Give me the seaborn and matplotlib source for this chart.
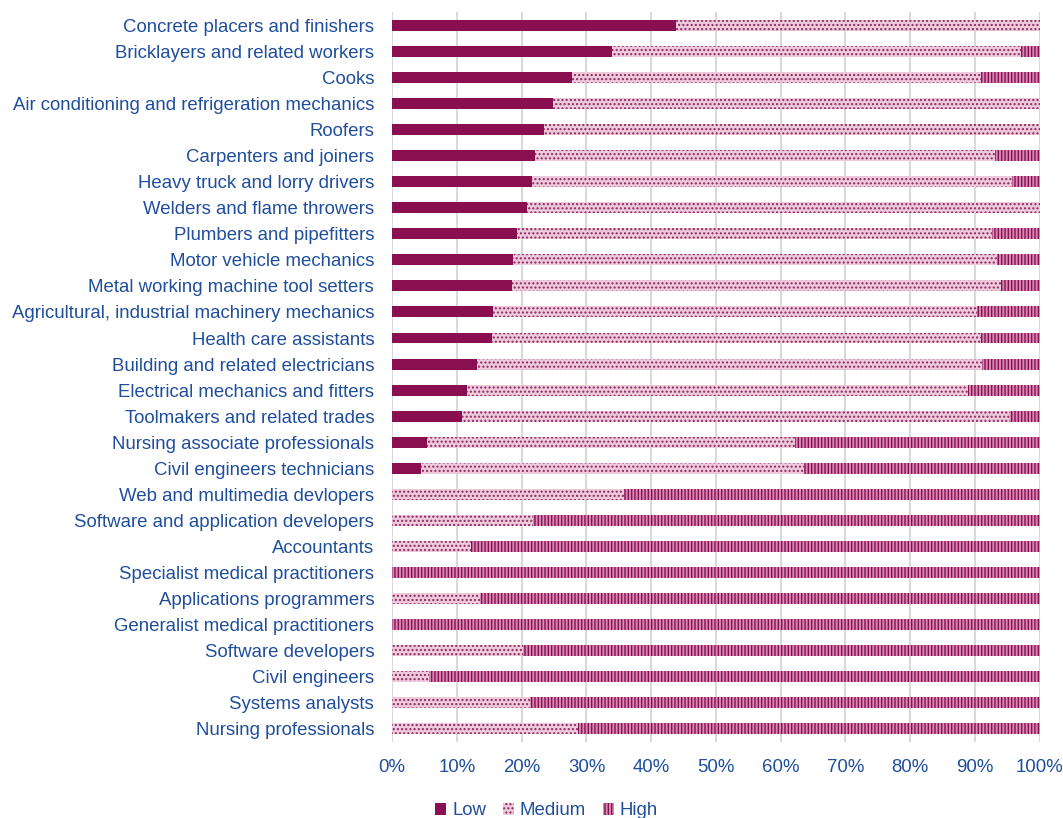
import matplotlib
matplotlib.use("Agg")
import matplotlib.pyplot as plt
import seaborn as sns
import pandas as pd
import numpy as np
from matplotlib.patches import Patch

occupations = [
    "Concrete placers and finishers",
    "Bricklayers and related workers",
    "Cooks",
    "Air conditioning and refrigeration mechanics",
    "Roofers",
    "Carpenters and joiners",
    "Heavy truck and lorry drivers",
    "Welders and flame throwers",
    "Plumbers and pipefitters",
    "Motor vehicle mechanics",
    "Metal working machine tool setters",
    "Agricultural, industrial machinery mechanics",
    "Health care assistants",
    "Building and related electricians",
    "Electrical mechanics and fitters",
    "Toolmakers and related trades",
    "Nursing associate professionals",
    "Civil engineers technicians",
    "Web and multimedia devlopers",
    "Software and application developers",
    "Accountants",
    "Specialist medical practitioners",
    "Applications programmers",
    "Generalist medical practitioners",
    "Software developers",
    "Civil engineers",
    "Systems analysts",
    "Nursing professionals",
]
low = [43.8, 34.0, 27.8, 24.8, 23.5, 22.1, 21.6, 20.8, 19.3, 18.7, 18.5, 15.6, 15.4, 13.1,
       11.6, 10.8, 5.3, 4.5, 0, 0, 0, 0, 0, 0, 0, 0, 0, 0]
medium = [56.2, 63.2, 63.2, 75.2, 76.5, 71.0, 74.1, 79.2, 73.4, 74.7, 75.6, 74.8, 75.6, 78.0,
          77.4, 84.6, 56.9, 59.1, 35.8, 21.8, 12.2, 0, 13.6, 0, 20.2, 5.7, 21.3, 28.7]
high = [100 - l - m for l, m in zip(low, medium)]
levels = ["Low", "Medium", "High"]
xticks = list(range(0, 101, 10))

df = pd.DataFrame({"occ": occupations, "low": low, "medium": medium, "high": high})
df["cum_low"] = df["low"]
df["cum_med"] = df["low"] + df["medium"]
df["cum_high"] = df["low"] + df["medium"] + df["high"]

sns.set_style("white")
plt.rcParams["font.family"] = ["Liberation Sans", "DejaVu Sans"]
plt.rcParams["hatch.linewidth"] = 1.0

text_color = "#1f4e9c"
dark = "#8a0f50"
med_face = "#efcadd"
med_hatch = "#8a2a5e"
high_face = "#d58ab3"

fig = plt.figure(figsize=(10.63, 8.18), dpi=100)
ax = fig.add_axes([0.369, 0.093, 0.609, 0.892])

styles = [
    ("cum_high", high_face, "|||||", dark),
    ("cum_med", med_face, "....", med_hatch),
    ("cum_low", dark, None, dark),
]
for col, face, hatch, hc in styles:
    n_before = len(ax.patches)
    sns.barplot(data=df, x=col, y="occ", orient="h", color=face, width=0.42,
                saturation=1, ax=ax, zorder=3)
    for p in ax.patches[n_before:]:
        p.set_facecolor(face)
        p.set_edgecolor(hc)
        p.set_linewidth(0)
        if hatch:
            p.set_hatch(hatch)

ax.set_xlim(0, 100)
ax.set_ylim(len(occupations) - 0.5, -0.5)
ax.set_xticks(xticks)
ax.set_xticklabels([f"{t}%" for t in xticks])
ax.xaxis.grid(True, color="#d9d9d9", linewidth=1.5, zorder=0)
ax.set_axisbelow(True)
for s in ax.spines.values():
    s.set_visible(False)
ax.set_xlabel("")
ax.set_ylabel("")
ax.tick_params(axis="both", length=0, labelsize=13.4, colors=text_color)
ax.tick_params(axis="y", pad=13)
ax.tick_params(axis="x", pad=12)

handles = [
    Patch(facecolor=dark, edgecolor=dark, linewidth=0, label=levels[0]),
    Patch(facecolor=med_face, edgecolor=med_hatch, linewidth=0, hatch="....", label=levels[1]),
    Patch(facecolor=high_face, edgecolor=dark, linewidth=0, hatch="|||||", label=levels[2]),
]
leg = fig.legend(handles=handles, loc="lower center", bbox_to_anchor=(0.514, -0.022), ncol=3,
                 frameon=False, fontsize=13.4, handlelength=0.6, handleheight=0.6,
                 handletextpad=0.3, columnspacing=0.9)
for t in leg.get_texts():
    t.set_color(text_color)

fig.savefig("out.png", dpi=100)
